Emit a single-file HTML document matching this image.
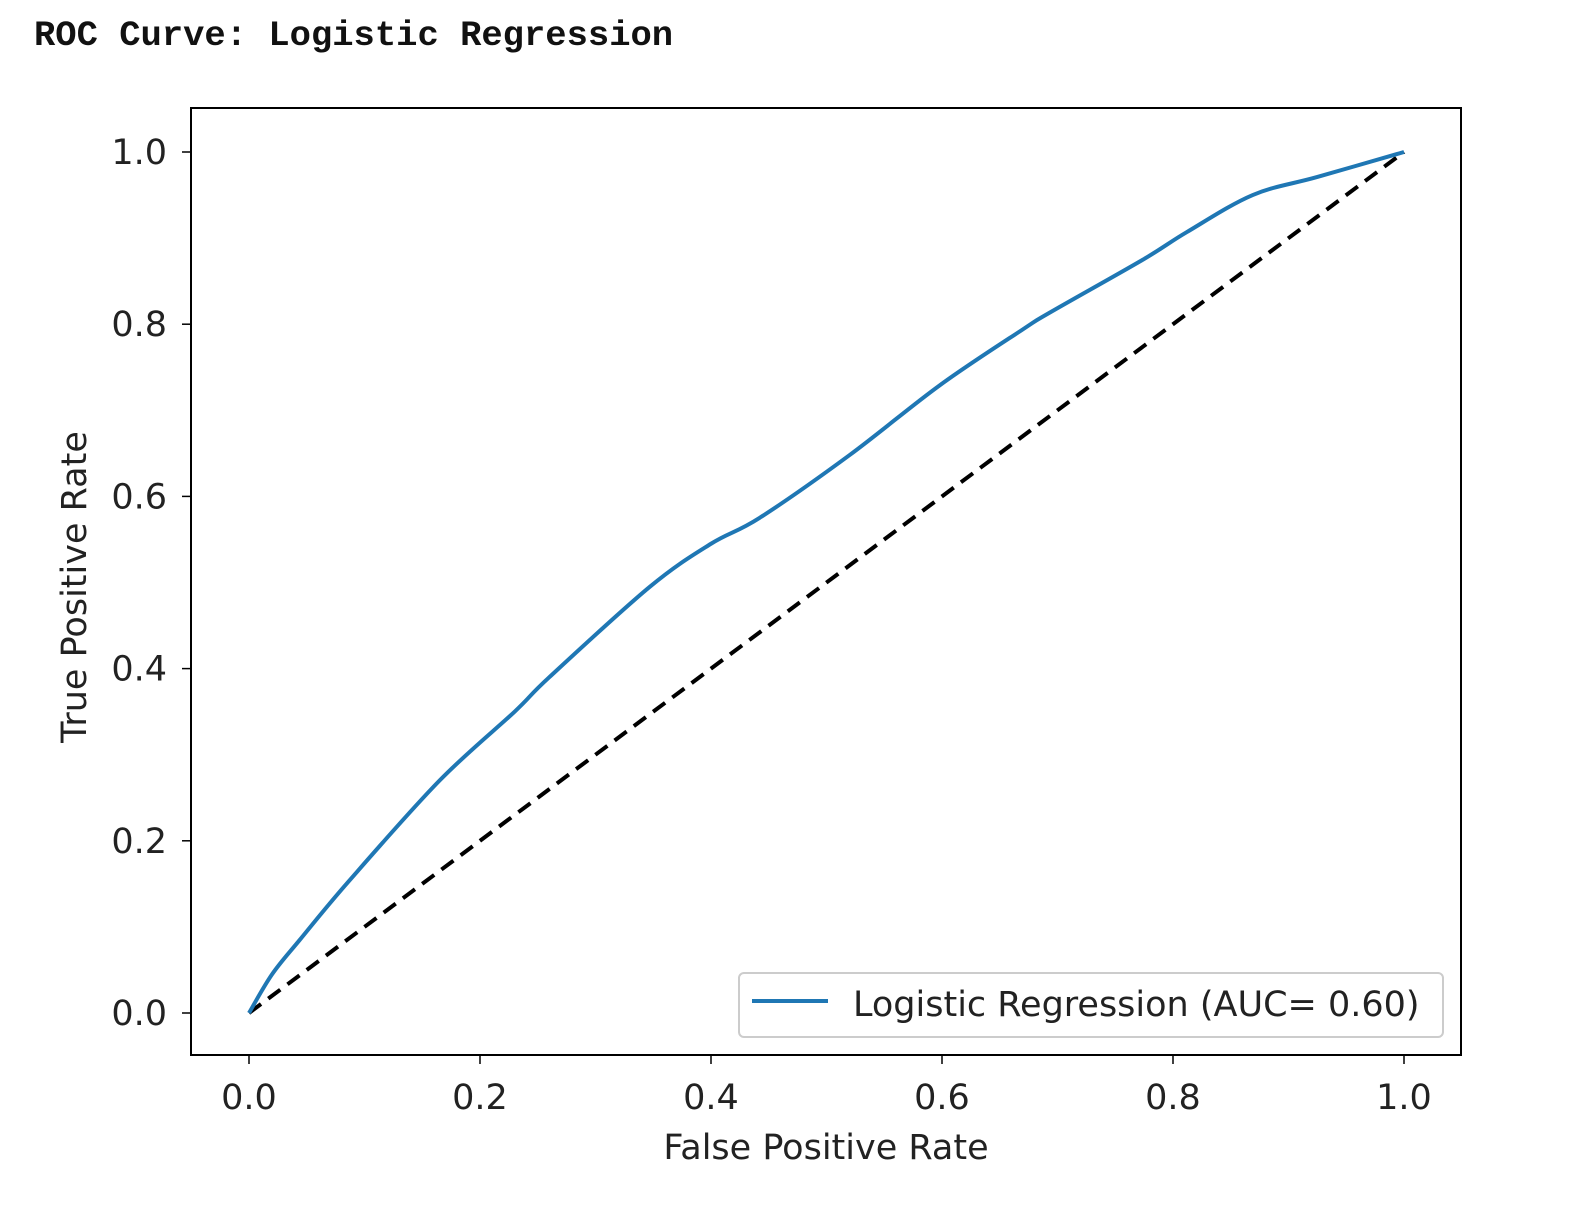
<!DOCTYPE html>
<html><head><meta charset="utf-8"><style>
body{margin:0;background:#fff;width:1577px;height:1222px;overflow:hidden}
svg text{font-family:"DejaVu Sans","Liberation Sans",sans-serif;fill:#222}
</style></head><body>
<svg id="chart" width="1577" height="1222">
<text x="34" y="45" style="font-family:'Liberation Mono',monospace;font-size:35.5px;font-weight:bold;fill:#111">ROC Curve: Logistic Regression</text>
<g id="plot"></g>
</svg>
<script>
const fprValues=[0,0.02,0.044,0.087,0.165,0.23,0.26,0.347,0.40,0.442,0.52,0.598,0.670,0.694,0.774,0.812,0.869,0.925,1];
const tprValues=[0,0.045,0.085,0.154,0.27,0.35,0.39,0.495,0.545,0.575,0.648,0.729,0.794,0.814,0.875,0.907,0.950,0.971,1];
const xTicks=["0.0","0.2","0.4","0.6","0.8","1.0"];
const yTicks=["0.0","0.2","0.4","0.6","0.8","1.0"];
const legendLabel="Logistic Regression (AUC= 0.60)";
const NS="http://www.w3.org/2000/svg";
const g=document.getElementById('plot');
const X=v=>249+v*1155, Y=v=>1013-v*861;
const FS=35;
function el(t,a,p){const e=document.createElementNS(NS,t);for(const k in a)e.setAttribute(k,a[k]);(p||g).appendChild(e);return e;}
const frame=el('rect',{x:191,y:108,width:1270,height:947,fill:'none',stroke:'#000','stroke-width':2});


xTicks.forEach(t=>{const v=parseFloat(t);
 const l=el('line',{x1:X(v),x2:X(v),y1:1055,y2:1064,stroke:'#000','stroke-width':1.5});
 
 
 const tx=el('text',{x:X(v),y:1109,'text-anchor':'middle','font-size':FS});tx.textContent=t;
 
 
});
yTicks.forEach(t=>{const v=parseFloat(t);
 const l=el('line',{x1:182,x2:191,y1:Y(v),y2:Y(v),stroke:'#000','stroke-width':1.5});
 
 
 const tx=el('text',{x:167,y:Y(v)+12,'text-anchor':'end','font-size':FS});tx.textContent=t;
 
 
});
const xl=el('text',{x:826,y:1159,'text-anchor':'middle','font-size':FS});xl.textContent='False Positive Rate';


const yl=el('text',{x:86,y:587,'text-anchor':'middle','font-size':FS,transform:'rotate(-90 86 587)'});yl.textContent='True Positive Rate';


const diag=el('line',{x1:X(0),y1:Y(0),x2:X(1),y2:Y(1),stroke:'#000','stroke-width':4,'stroke-dasharray':'15 9'});


// smooth path through points (Catmull-Rom)
const P=fprValues.map((f,i)=>[X(f),Y(tprValues[i])]);
let d='M'+P[0][0]+','+P[0][1];
for(let i=0;i<P.length-1;i++){
 const p0=P[Math.max(0,i-1)],p1=P[i],p2=P[i+1],p3=P[Math.min(P.length-1,i+2)];
 const c1=[p1[0]+(p2[0]-p0[0])/6,p1[1]+(p2[1]-p0[1])/6];
 const c2=[p2[0]-(p3[0]-p1[0])/6,p2[1]-(p3[1]-p1[1])/6];
 d+=' C'+c1.join(',')+' '+c2.join(',')+' '+p2.join(',');
}
const roc=el('path',{d:d,fill:'none',stroke:'#1f77b4','stroke-width':4,'stroke-linejoin':'round'});


const lg=el('g',{});


el('rect',{x:739,y:973,width:704,height:64,rx:5,fill:'#fff',stroke:'#ccc','stroke-width':2},lg);
const ll=el('line',{x1:752,x2:828,y1:1001,y2:1001,stroke:'#1f77b4','stroke-width':4},lg);


const lt=el('text',{x:853,y:1016,'font-size':FS},lg);lt.textContent=legendLabel;


</script>
</body></html>
